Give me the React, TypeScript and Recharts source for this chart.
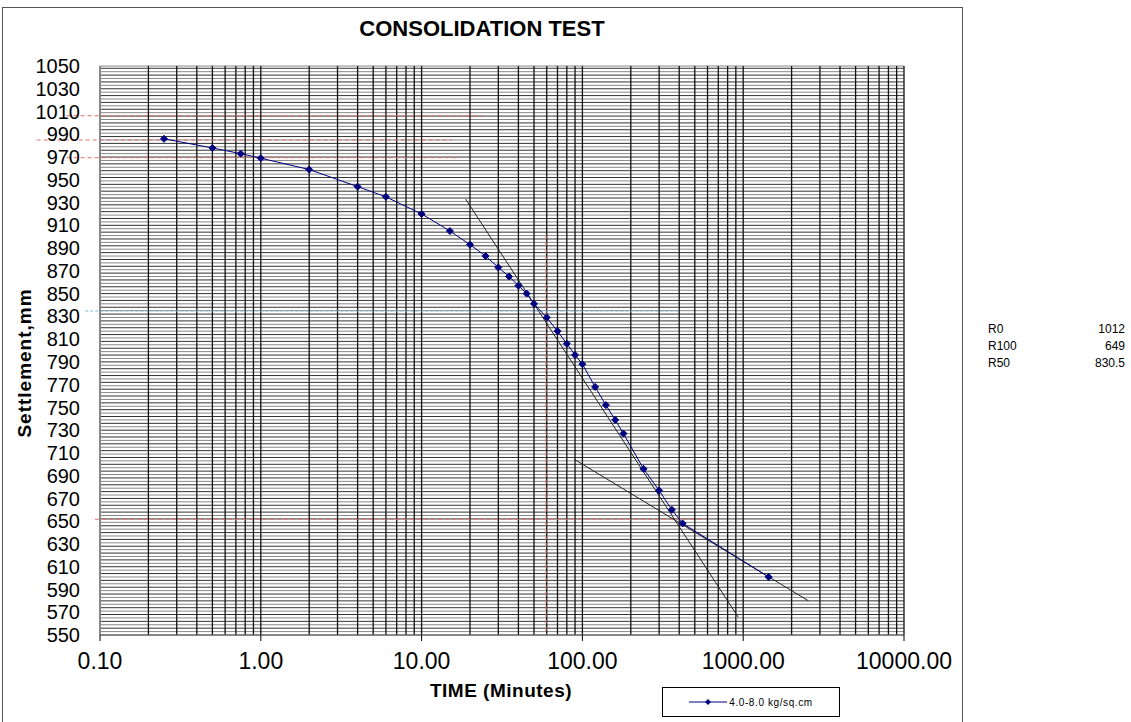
import React from 'react';
import { LineChart, Line, XAxis, YAxis, ReferenceLine } from 'recharts';

// elapsed time (minutes) and dial reading for the 4.0-8.0 kg/sq.cm increment
const times = [
  0.25, 0.5, 0.75, 1, 2, 4, 6, 10, 15, 20, 25, 30, 35, 40, 45, 50, 60, 70, 80,
  90, 100, 120, 140, 160, 180, 240, 300, 360, 420, 1440,
];
const settlement = [
  986, 978, 973, 969, 959, 944, 935, 920, 905, 893, 883, 873, 865, 857, 850,
  841, 829, 817, 806, 796, 788, 768, 752, 739, 727, 696, 677, 660, 648, 601,
];

const xTicks = [0.1, 1, 10, 100, 1000, 10000];
const yTicks = [
  550, 570, 590, 610, 630, 650, 670, 690, 710, 730, 750, 770, 790, 810, 830,
  850, 870, 890, 910, 930, 950, 970, 990, 1010, 1030, 1050,
];

// construction lines (Casagrande)
const tangentSteep = [{ t: 18.8, r: 933 }, { t: 932, r: 565.6 }];
const tangentFlat = [{ t: 89, r: 704.4 }, { t: 2541, r: 580.1 }];
const r0Line = [{ t: 0.062, r: 1006.3 }, { t: 23.6, r: 1006.3 }];
const r1Line = [{ t: 0.0404, r: 985 }, { t: 15.4, r: 985 }];
const r4Line = [{ t: 0.062, r: 969.4 }, { t: 17.3, r: 969.4 }];
const r100Line = [{ t: 0.093, r: 651.7 }, { t: 578, r: 651.7 }];
const r50Line = [{ t: 0.081, r: 834.7 }, { t: 404, r: 834.7 }];
const t50Line = [{ t: 59.4, r: 901.5 }, { t: 59.4, r: 550 }];

const summary = [
  { name: 'R0', value: '1012' },
  { name: 'R100', value: '649' },
  { name: 'R50', value: '830.5' },
];

const data = times.map((t, i) => ({ t, r: settlement[i] }));

// log grid: 1..9 in every decade
const vGrid: number[] = [];
[0.1, 1, 10, 100, 1000].forEach((d) => {
  for (let k = 1; k <= 9; k++) vGrid.push(+(k * d).toPrecision(6));
});
vGrid.push(10000);

const hGrid: number[] = [];
for (let v = 550; v < 1050; v += 3) hGrid.push(v);
hGrid.push(1050);

const FONT = '"Liberation Sans", Arial, sans-serif';
const NAVY = '#000080';

const Diamond = (props: any) => {
  const { cx, cy, index } = props;
  if (cx == null || cy == null) return <g key={index} />;
  const s = 3.5;
  return (
    <path
      key={index}
      d={`M${cx},${cy - s}L${cx + s},${cy}L${cx},${cy + s}L${cx - s},${cy}Z`}
      fill={NAVY}
      stroke={NAVY}
    />
  );
};

const seg = (pts: { t: number; r: number }[]) =>
  pts.map((p) => ({ x: p.t, y: p.r }));

export default function App() {
  return (
    <div
      style={{
        position: 'fixed',
        left: 0,
        top: 0,
        width: 1131,
        height: 722,
        overflow: 'hidden',
        background: '#fff',
        fontFamily: FONT,
      }}
    >
      <div
        style={{
          position: 'absolute',
          left: 2,
          top: 7,
          width: 961,
          height: 730,
          border: '1px solid #555',
          boxSizing: 'border-box',
        }}
      />
      <div
        style={{
          position: 'absolute',
          left: 0,
          width: 964,
          top: 16,
          textAlign: 'center',
          fontSize: 22,
          fontWeight: 'bold',
        }}
      >
        CONSOLIDATION TEST
      </div>

      <LineChart
        width={1131}
        height={722}
        data={data}
        margin={{ top: 66, right: 227, bottom: 47, left: 10 }}
      >
        <XAxis
          dataKey="t"
          type="number"
          scale="log"
          domain={[0.1, 10000]}
          ticks={xTicks}
          interval={0}
          allowDataOverflow
          height={40}
          tickFormatter={(v: number) => v.toFixed(2)}
          tick={{ fill: '#000', fontSize: 23, fontFamily: FONT }}
          tickSize={6}
          tickMargin={12}
          tickLine={{ stroke: '#000' }}
          axisLine={{ stroke: '#777' }}
        />
        <YAxis
          dataKey="r"
          type="number"
          domain={[550, 1050]}
          ticks={yTicks}
          interval={0}
          allowDataOverflow
          width={90}
          tick={{ fill: '#000', fontSize: 20, fontFamily: FONT }}
          tickLine={false}
          tickSize={0}
          tickMargin={20}
          axisLine={{ stroke: '#888', strokeWidth: 2 }}
        />

        {hGrid.map((v, i) => (
          <ReferenceLine
            key={'h' + v}
            y={v}
            stroke={i % 2 === 0 ? '#333' : '#888'}
            strokeWidth={1}
          />
        ))}
        {vGrid.map((v) => (
          <ReferenceLine key={'v' + v} x={v} stroke="#111" strokeWidth={1.3} />
        ))}

        {[r0Line, r1Line, r4Line, r100Line].map((l, i) => (
          <ReferenceLine
            key={'red' + i}
            segment={seg(l)}
            ifOverflow="visible"
            stroke="#e07070"
            strokeDasharray="4 3"
          />
        ))}
        <ReferenceLine
          segment={seg(t50Line)}
          ifOverflow="visible"
          stroke="#e07070"
          strokeDasharray="4 3"
        />
        <ReferenceLine
          segment={seg(r50Line)}
          ifOverflow="visible"
          stroke="#7fb8d8"
          strokeDasharray="3 2"
        />
        <ReferenceLine
          segment={seg(tangentSteep)}
          ifOverflow="visible"
          stroke="#222"
        />
        <ReferenceLine
          segment={seg(tangentFlat)}
          ifOverflow="visible"
          stroke="#222"
        />

        <Line
          dataKey="r"
          type="linear"
          stroke={NAVY}
          strokeWidth={1}
          dot={Diamond}
          activeDot={false}
          isAnimationActive={false}
        />
      </LineChart>

      <div
        style={{
          position: 'absolute',
          left: 25,
          top: 363,
          transform: 'translate(-50%, -50%) rotate(-90deg)',
          fontSize: 19,
          letterSpacing: 1,
          fontWeight: 'bold',
          whiteSpace: 'nowrap',
        }}
      >
        Settlement,mm
      </div>
      <div
        style={{
          position: 'absolute',
          left: 360,
          width: 282,
          top: 680,
          textAlign: 'center',
          fontSize: 19,
          letterSpacing: 0.5,
          fontWeight: 'bold',
        }}
      >
        TIME (Minutes)
      </div>

      <div
        style={{
          position: 'absolute',
          left: 662,
          top: 687,
          width: 178,
          height: 30,
          border: '1px solid #000',
          boxSizing: 'border-box',
          display: 'flex',
          alignItems: 'center',
          justifyContent: 'center',
          fontSize: 10,
          letterSpacing: 0.6,
        }}
      >
        <svg width={38} height={10} style={{ marginRight: 2 }}>
          <line x1={0} y1={5} x2={38} y2={5} stroke={NAVY} strokeWidth={1} />
          <path d="M19,2L22,5L19,8L16,5Z" fill={NAVY} />
        </svg>
        4.0-8.0 kg/sq.cm
      </div>

      {summary.map((s, i) => (
        <div
          key={s.name}
          style={{
            position: 'absolute',
            left: 988,
            width: 137,
            top: 322 + i * 17,
            fontSize: 12,
            display: 'flex',
            justifyContent: 'space-between',
          }}
        >
          <span>{s.name}</span>
          <span>{s.value}</span>
        </div>
      ))}
    </div>
  );
}
